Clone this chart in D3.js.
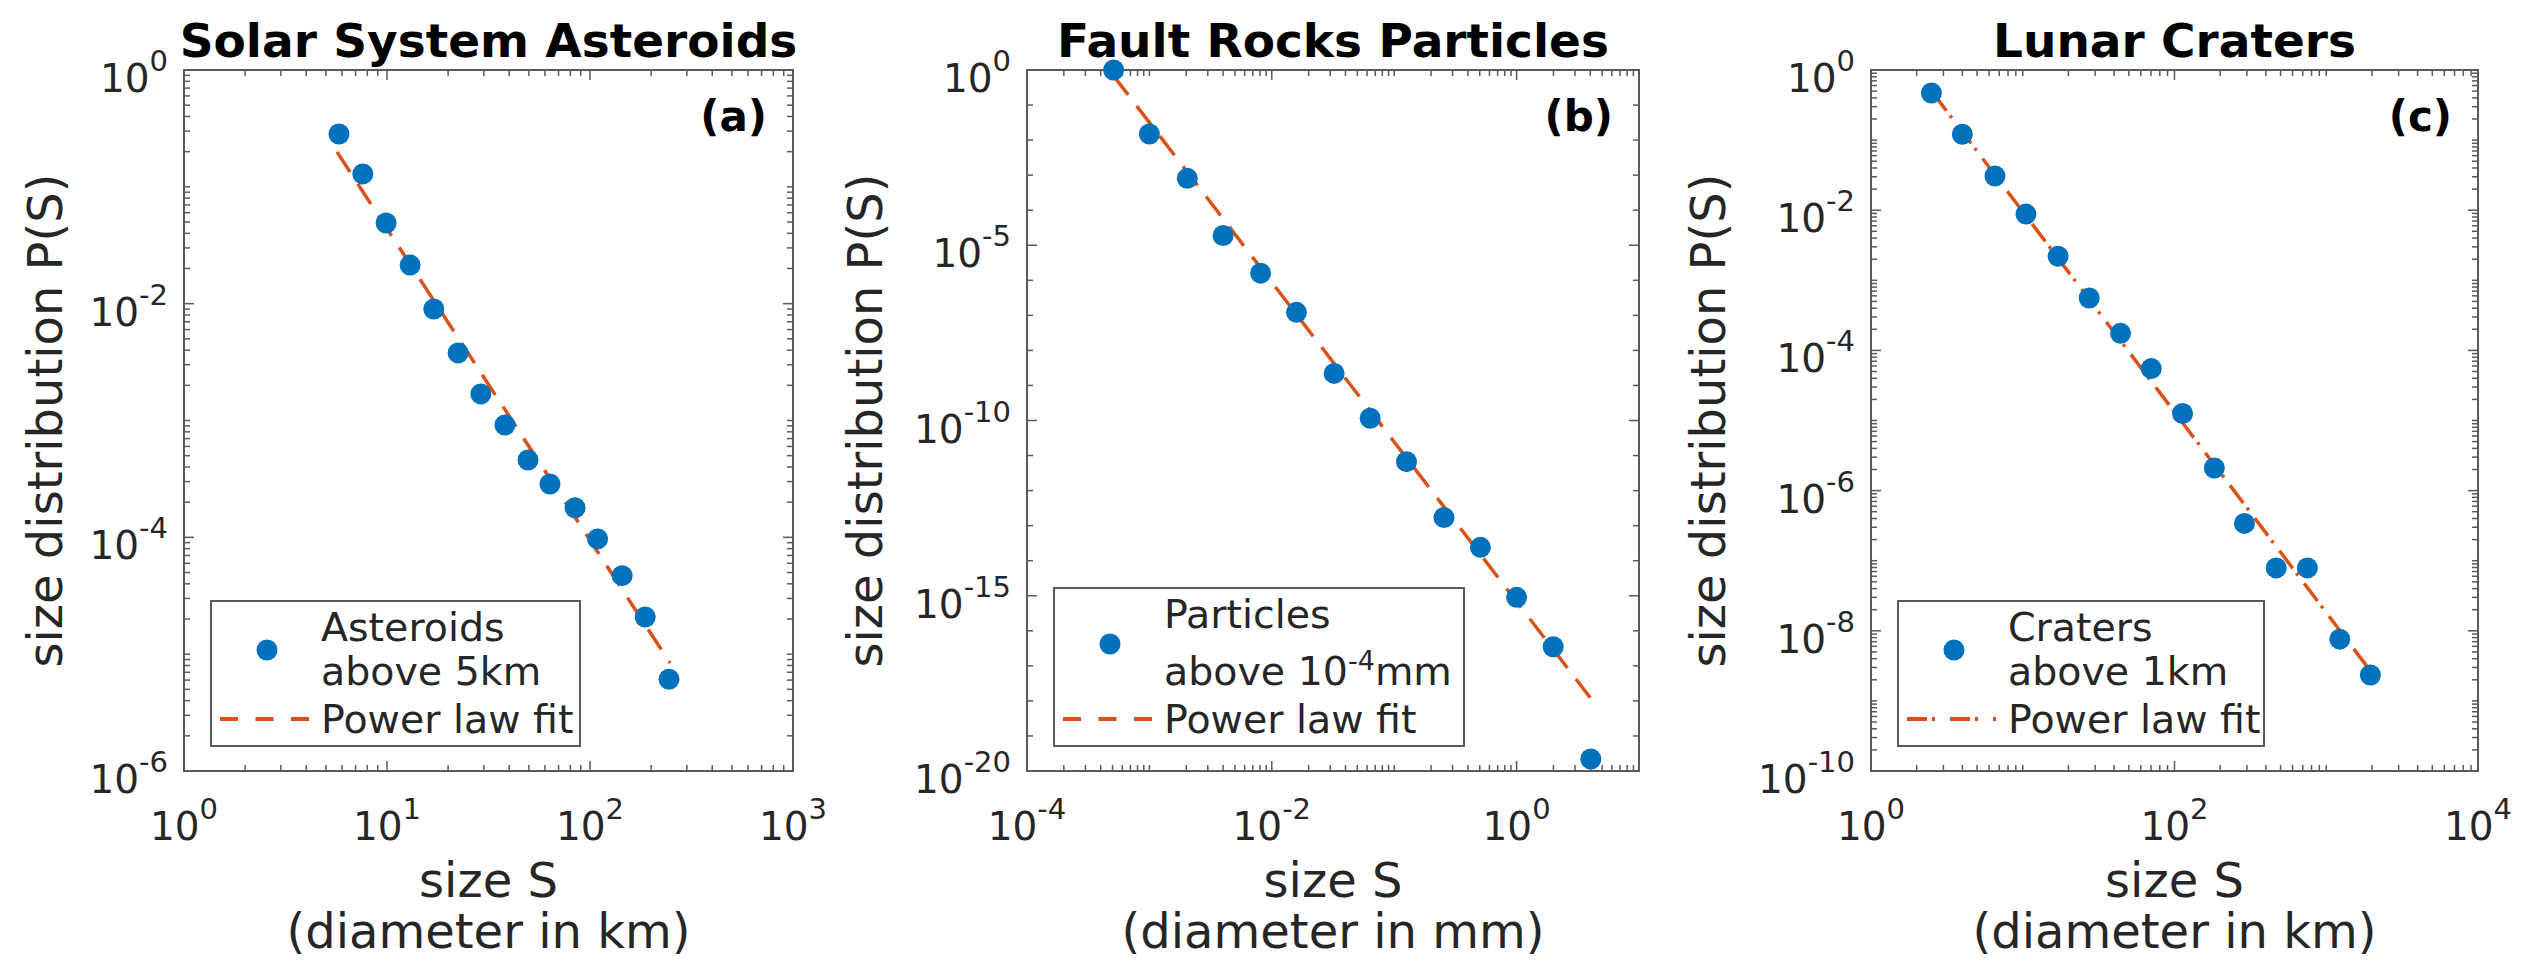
<!DOCTYPE html>
<html>
<head>
<meta charset="utf-8">
<script src="https://cdn.jsdelivr.net/npm/d3@7"></script>
<style>
body{margin:0;background:#fff;}
svg text{font-family:"DejaVu Sans",sans-serif;fill:#262626;}
</style>
</head>
<body>
<svg id="chart"></svg>
<script>
// (a) asteroids
var astS=[5.8,7.6,9.9,13.0,17.0,22.4,29.0,38.1,49.5,63.5,84.4,109,144,187,245];
var astP=[0.283,0.129,0.049,0.0214,0.0090,0.00379,0.00169,9.16e-4,4.59e-4,2.86e-4,1.79e-4,9.7e-5,4.7e-5,2.08e-5,6.1e-6];
var astFitS=[5.67,248];
var astFitP=[0.199,8.4e-6];

// (b) fault rock particles
var rockS=[5.1e-4,1.0e-3,2.04e-3,4.0e-3,8.1e-3,0.0159,0.0323,0.0636,0.126,0.255,0.506,1.0,1.99,4.04];
var rockP=[1.0,0.0149,8.1e-4,1.9e-5,1.6e-6,1.22e-7,2.2e-9,1.16e-10,6.7e-12,1.7e-13,2.4e-14,9e-16,3.5e-17,2.2e-20];
var rockFitS=[5.1e-4,4.0];
var rockFitP=[0.68,1.23e-18];

// (c) lunar craters
var craterS=[2.5,4.0,6.56,10.5,17.1,27.4,44.1,70.3,113,183,289,468,751,1228,1954];
var craterP=[0.47,0.121,0.0308,0.0088,2.2e-3,5.6e-4,1.75e-4,5.5e-5,1.26e-5,2.1e-6,3.4e-7,7.9e-8,7.9e-8,7.6e-9,2.34e-9];
var craterFitS=[2.565,1936];
var craterFitP=[0.468,2.75e-9];

// titles, labels, tick exponents
var titles=["Solar System Asteroids","Fault Rocks Particles","Lunar Craters"];
var tags=["(a)","(b)","(c)"];
var xUnits=["(diameter in km)","(diameter in mm)","(diameter in km)"];
var legendTop=["Asteroids","Particles","Craters"];
var legendBottom=["above 5km","above 10","above 1km"];
var xExpA=[0,1,2,3], yExpA=[0,-2,-4,-6];
var xExpB=[-4,-2,0], yExpB=[0,-5,-10,-15,-20];
var xExpC=[0,2,4], yExpC=[0,-2,-4,-6,-8,-10];

var W=2524,H=962;
var svg=d3.select("#chart").attr("width",W).attr("height",H);

var top0=70,bottom0=771;
var panels=[
    {left:184,right:793,xd:[0,3],yd:[-6,0],xExp:xExpA,yExp:yExpA,yFull:true,
     S:astS,P:astP,fS:astFitS,fP:astFitP,dash:"24,14",legDash:"18,17.5",
     legW:369,legTop:601,legLines:[641,685,733],mark:650,ylab:122},
    {left:1027,right:1639,xd:[-4,1],yd:[-20,0],xExp:xExpB,yExp:yExpB,yFull:false,
     S:rockS,P:rockP,fS:rockFitS,fP:rockFitP,dash:"24,14",legDash:"18,17.5",
     legW:410,legTop:588,legLines:[628,685,733],mark:644,ylab:145},
    {left:1871,right:2478,xd:[0,4],yd:[-10,0],xExp:xExpC,yExp:yExpC,yFull:true,
     S:craterS,P:craterP,fS:craterFitS,fP:craterFitP,dash:"22,6,3,10",legDash:"20,5,3,15",
     legW:366,legTop:601,legLines:[641,685,733],mark:650,ylab:146}
];

function logTicks(lo,hi,full){
    var out=[];
    for(var e=lo;e<hi;e++){
        if(full){for(var k=1;k<=9;k++) out.push(k*Math.pow(10,e));}
        else out.push(Math.pow(10,e));
    }
    out.push(Math.pow(10,hi));
    return out;
}

var blue="#0072BD", orange="#D95319", axisCol="#5a5a5a";

panels.forEach(function(p,i){
    var g=svg.append("g");
    var xs=d3.scaleLog().domain([Math.pow(10,p.xd[0]),Math.pow(10,p.xd[1])]).range([p.left,p.right]);
    var ys=d3.scaleLog().domain([Math.pow(10,p.yd[0]),Math.pow(10,p.yd[1])]).range([bottom0,top0]);

    // ticks, inward on all four sides
    var xMajor=p.xExp.map(function(e){return Math.pow(10,e);});
    var yMajor=p.yExp.map(function(e){return Math.pow(10,e);});
    function isMajor(v,list){return list.some(function(m){return Math.abs(Math.log10(v)-Math.log10(m))<1e-9;});}

    logTicks(p.xd[0],p.xd[1],true).forEach(function(v){
        var x=xs(v); if(x<=p.left+0.5||x>=p.right-0.5) return;
        var len=isMajor(v,xMajor)?10:6;
        g.append("line").attr("x1",x).attr("x2",x).attr("y1",bottom0).attr("y2",bottom0-len)
            .attr("stroke",axisCol).attr("stroke-width",1.5);
        g.append("line").attr("x1",x).attr("x2",x).attr("y1",top0).attr("y2",top0+len)
            .attr("stroke",axisCol).attr("stroke-width",1.5);
    });
    logTicks(p.yd[0],p.yd[1],p.yFull).forEach(function(v){
        var y=ys(v); if(y>=bottom0-0.5||y<=top0+0.5) return;
        var len=isMajor(v,yMajor)?10:6;
        g.append("line").attr("x1",p.left).attr("x2",p.left+len).attr("y1",y).attr("y2",y)
            .attr("stroke",axisCol).attr("stroke-width",1.5);
        g.append("line").attr("x1",p.right).attr("x2",p.right-len).attr("y1",y).attr("y2",y)
            .attr("stroke",axisCol).attr("stroke-width",1.5);
    });

    // box
    g.append("rect").attr("x",p.left).attr("y",top0)
        .attr("width",p.right-p.left).attr("height",bottom0-top0)
        .attr("fill","none").attr("stroke",axisCol).attr("stroke-width",2);

    // tick labels
    p.yExp.forEach(function(e){
        var t=g.append("text").attr("x",p.left-16).attr("y",ys(Math.pow(10,e))+22)
            .attr("text-anchor","end").attr("font-size",39);
        t.append("tspan").text("10");
        t.append("tspan").attr("dy",-21).attr("font-size",29).text(e);
    });
    p.xExp.forEach(function(e){
        var t=g.append("text").attr("x",xs(Math.pow(10,e))).attr("y",bottom0+69)
            .attr("text-anchor","middle").attr("font-size",39);
        t.append("tspan").text("10");
        t.append("tspan").attr("dy",-21).attr("font-size",29).text(e);
    });

    // fit line
    var line=d3.line().x(function(d){return xs(d[0]);}).y(function(d){return ys(d[1]);});
    g.append("path").datum(d3.zip(p.fS,p.fP)).attr("d",line)
        .attr("fill","none").attr("stroke",orange).attr("stroke-width",3.5)
        .attr("stroke-dasharray",p.dash);

    // points
    g.selectAll("circle.pt").data(d3.zip(p.S,p.P)).enter().append("circle")
        .attr("class","pt").attr("cx",function(d){return xs(d[0]);}).attr("cy",function(d){return ys(d[1]);})
        .attr("r",10.5).attr("fill",blue);

    // titles
    var cx=(p.left+p.right)/2;
    g.append("text").attr("x",cx).attr("y",57).attr("text-anchor","middle")
        .attr("font-size",47).attr("font-weight","bold").attr("style","fill:#000").text(titles[i]);
    g.append("text").attr("x",p.right-26).attr("y",131).attr("text-anchor","end")
        .attr("font-size",42).attr("font-weight","bold").attr("style","fill:#000").text(tags[i]);

    // axis labels
    g.append("text").attr("x",cx).attr("y",bottom0+126).attr("text-anchor","middle")
        .attr("font-size",48).text("size S");
    g.append("text").attr("x",cx).attr("y",bottom0+177).attr("text-anchor","middle")
        .attr("font-size",48).text(xUnits[i]);
    g.append("text").attr("transform","translate("+(p.left-p.ylab)+","+((top0+bottom0)/2)+") rotate(-90)")
        .attr("text-anchor","middle").attr("font-size",48).text("size distribution P(S)");

    // legend
    var lx=p.left+27;
    g.append("rect").attr("x",lx).attr("y",p.legTop).attr("width",p.legW).attr("height",746-p.legTop)
        .attr("fill","#fff").attr("stroke",axisCol).attr("stroke-width",2);
    g.append("circle").attr("cx",lx+56).attr("cy",p.mark).attr("r",10.5).attr("fill",blue);
    g.append("text").attr("x",lx+110).attr("y",p.legLines[0]).attr("font-size",39.5).text(legendTop[i]);
    var t2=g.append("text").attr("x",lx+110).attr("y",p.legLines[1]).attr("font-size",39.5);
    t2.append("tspan").text(legendBottom[i]);
    if(i===1){
        t2.append("tspan").attr("dy",-15).attr("font-size",27).text("-4");
        t2.append("tspan").attr("dy",15).text("mm");
    }
    g.append("text").attr("x",lx+110).attr("y",p.legLines[2]).attr("font-size",39.5).text("Power law fit");
    g.append("line").attr("x1",lx+9).attr("x2",lx+98).attr("y1",719).attr("y2",719)
        .attr("stroke",orange).attr("stroke-width",4).attr("stroke-dasharray",p.legDash);
});
</script>
</body>
</html>
